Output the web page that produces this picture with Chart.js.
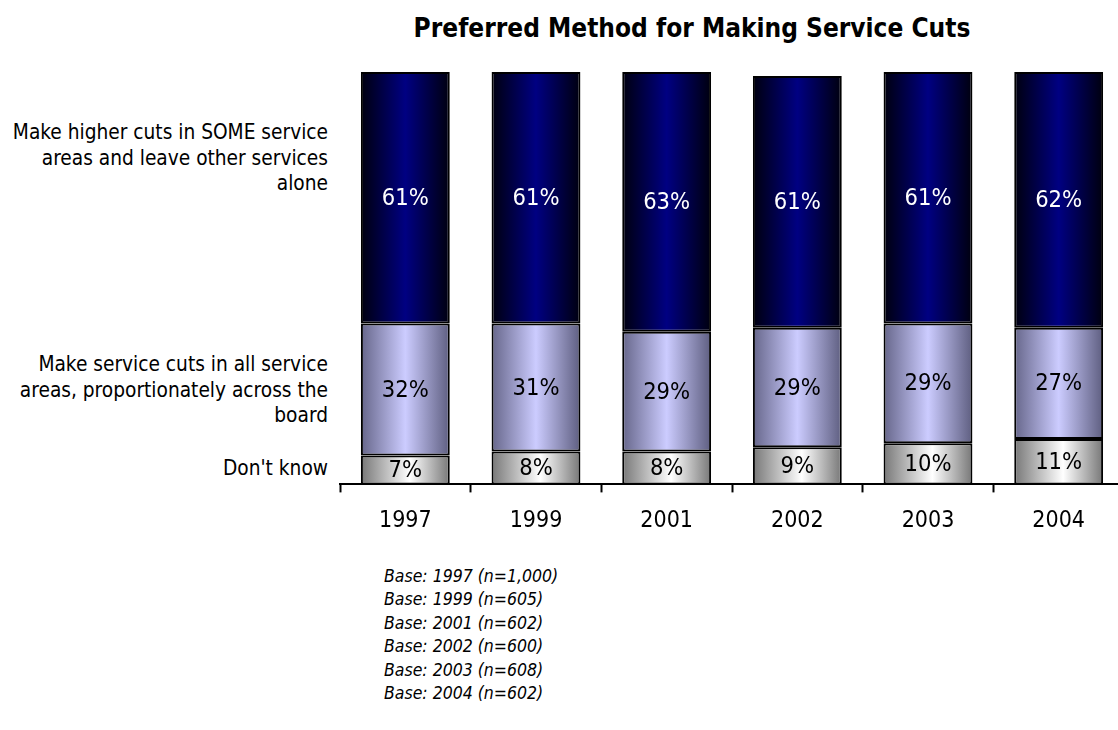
<!DOCTYPE html>
<html>
<head>
<meta charset="utf-8">
<script src="https://cdn.jsdelivr.net/npm/chart.js@4.4.1/dist/chart.umd.min.js"></script>
<style>
  html, body { margin: 0; padding: 0; background: #fff; overflow: hidden; }
  body { width: 1118px; height: 730px; position: relative; font-family: "DejaVu Sans Condensed", "DejaVu Sans", sans-serif; color: #000; }
  #title { position: absolute; left: 340px; width: 704px; top: 13px; text-align: center; font-weight: bold; font-size: 26px; }
  #wrap { position: absolute; left: 0; top: 0; width: 1124px; height: 550px; }
  .side { position: absolute; right: 790px; text-align: right; font-size: 20.7px; line-height: 25.5px; white-space: nowrap; }
  #notes { position: absolute; left: 384px; top: 565px; font-style: italic; font-size: 17.5px; line-height: 23.4px; }
</style>
</head>
<body>
<div id="title">Preferred Method for Making Service Cuts</div>
<div class="side" style="top:120px">Make higher cuts in SOME service<br>areas and leave other services<br>alone</div>
<div class="side" style="top:352px">Make service cuts in all service<br>areas, proportionately across the<br>board</div>
<div class="side" style="top:456px">Don't know</div>
<div id="wrap"><canvas id="chart"></canvas></div>
<div id="notes"></div>
<script>
const years = ['1997', '1999', '2001', '2002', '2003', '2004'];
const dontKnow = [7, 8, 8, 9, 10, 11];
const proportional = [32, 31, 29, 29, 29, 27];
const someAreas = [61, 61, 63, 61, 61, 62];
const sampleSizes = ['1,000', '605', '602', '600', '608', '602'];

const FONT = '"DejaVu Sans Condensed", "DejaVu Sans", sans-serif';
const BAR_RATIO = 0.68;

document.getElementById('notes').innerHTML =
  years.map((y, i) => `Base: ${y} (n=${sampleSizes[i]})`).join('<br>');

// horizontal shading across each bar, like a cylinder
function shade(stops) {
  return function(ctx) {
    const chart = ctx.chart;
    const x = chart.scales.x;
    const flat = stops[1][1];
    if (!chart.chartArea || !x || ctx.dataIndex === undefined) return flat;
    const cx = x.getPixelForValue(ctx.dataIndex);
    const half = (x.width / years.length) * BAR_RATIO / 2;
    if (!isFinite(cx) || !isFinite(half) || half <= 0) return flat;
    const g = chart.ctx.createLinearGradient(cx - half, 0, cx + half, 0);
    stops.forEach(s => g.addColorStop(s[0], s[1]));
    return g;
  };
}

const valueLabels = {
  id: 'valueLabels',
  afterDatasetsDraw(chart) {
    const c = chart.ctx;
    c.save();
    c.font = '23.5px ' + FONT;
    c.textAlign = 'center';
    c.textBaseline = 'middle';
    chart.data.datasets.forEach((ds, di) => {
      chart.getDatasetMeta(di).data.forEach((bar, i) => {
        c.fillStyle = ds.labelColor;
        c.fillText(ds.data[i] + '%', bar.x, (bar.y + bar.base) / 2 + 1);
      });
    });
    c.restore();
  }
};

new Chart(document.getElementById('chart'), {
  type: 'bar',
  data: {
    labels: years,
    datasets: [
      {
        label: "Don't know",
        data: dontKnow,
        labelColor: '#000',
        backgroundColor: shade([[0, '#777777'], [0.55, '#ffffff'], [1, '#777777']])
      },
      {
        label: 'Make service cuts in all service areas, proportionately across the board',
        data: proportional,
        labelColor: '#000',
        backgroundColor: shade([[0, '#66668a'], [0.5, '#ccccff'], [1, '#5e5e80']])
      },
      {
        label: 'Make higher cuts in SOME service areas and leave other services alone',
        data: someAreas,
        labelColor: '#fff',
        backgroundColor: shade([[0, '#00000e'], [0.5, '#000082'], [1, '#00000e']])
      }
    ]
  },
  options: {
    responsive: true,
    maintainAspectRatio: false,
    animation: false,
    events: [],
    layout: { padding: { top: 72, left: 340, right: 0, bottom: 0 } },
    datasets: {
      bar: {
        categoryPercentage: 1,
        barPercentage: BAR_RATIO,
        borderColor: '#000',
        borderWidth: 2,
        borderSkipped: false
      }
    },
    plugins: {
      legend: { display: false },
      tooltip: { enabled: false },
      title: { display: false }
    },
    scales: {
      x: {
        stacked: true,
        offset: true,
        border: { display: true, color: '#000', width: 2 },
        grid: { offset: true, drawOnChartArea: false, drawTicks: true, tickLength: 8, tickWidth: 2, color: '#000' },
        ticks: { color: '#000', font: { family: FONT, size: 23 }, padding: 15 }
      },
      y: {
        stacked: true,
        display: false,
        min: 0,
        max: 100
      }
    }
  },
  plugins: [valueLabels]
});
</script>
</body>
</html>
